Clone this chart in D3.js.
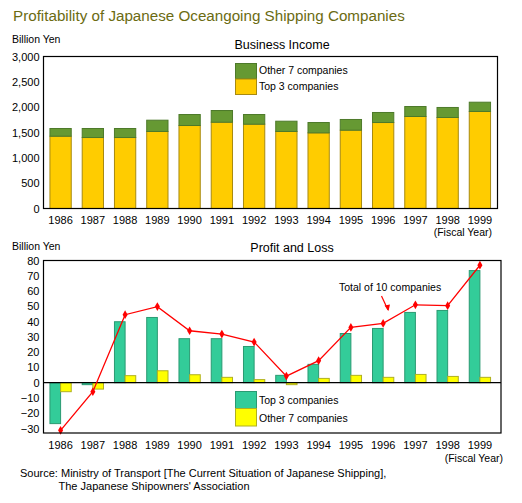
<!DOCTYPE html>
<html>
<head>
<meta charset="utf-8">
<script src="https://cdn.jsdelivr.net/npm/d3@7"></script>
<style>
  body { margin: 0; background: #fff; }
  text { font-family: "Liberation Sans", Arial, sans-serif; fill: #000; }
</style>
</head>
<body>
<div id="chart"></div>
<script>
// Data
var years = ["1986", "1987", "1988", "1989", "1990", "1991", "1992",
  "1993", "1994", "1995", "1996", "1997", "1998", "1999"];

// Business income, billion yen
var incomeTop3 = [1427, 1401, 1401, 1520, 1638, 1703, 1664, 1520, 1493, 1546, 1697, 1816, 1796, 1915];
var incomeOther7 = [152, 178, 178, 223, 217, 231, 191, 203, 204, 211, 198, 197, 198, 183];
var incomeTicks = [0, 500, 1000, 1500, 2000, 2500, 3000];

// Profit and loss, billion yen
var profitTop3 = [-26.8, -1.3, 39.9, 42.7, 28.8, 28.8, 23.7, 4.8, 12, 32.2, 35.5, 46, 47.3, 73.4];
var profitOther7 = [-5.9, -4.2, 4.6, 7.8, 5.2, 3.5, 2, -1.3, 2.8, 4.8, 3.5, 5.4, 4.1, 3.5];
var profitTotal = [-31.2, -5.9, 44.5, 49.8, 34, 31.8, 26.6, 4.3, 14.4, 36.2, 38.8, 51, 50.4, 76.9];
var profitTicks = [-30, -20, -10, 0, 10, 20, 30, 40, 50, 60, 70, 80];

var svgWidth = 522;
var svgHeight = 503;

var svg = d3.select("#chart")
  .append("svg")
  .attr("width", svgWidth)
  .attr("height", svgHeight);

// Title
svg.append("text")
  .attr("x", 13)
  .attr("y", 21)
  .style("font-size", "15.2px")
  .style("fill", "#6b6b12")
  .text("Profitability of Japanese Oceangoing Shipping Companies");

// shared x scale
var xScale = d3.scaleBand()
  .domain(years)
  .range([43.5, 497])
  .paddingInner(0.34)
  .paddingOuter(0.2);

// ==============================
// Chart 1: Business Income
// ==============================
var yIncome = d3.scaleLinear()
  .domain([0, 3000])
  .range([208.5, 56.5]);

svg.append("text")
  .attr("x", 12)
  .attr("y", 42.5)
  .style("font-size", "10.5px")
  .text("Billion Yen");

svg.append("text")
  .attr("x", 282)
  .attr("y", 49)
  .attr("text-anchor", "middle")
  .style("font-size", "12.5px")
  .text("Business Income");

var leftAxis1 = d3.axisLeft(yIncome)
  .tickValues(incomeTicks)
  .tickFormat(d3.format(","))
  .tickSize(0)
  .tickPadding(4);

svg.append("g")
  .attr("transform", "translate(43.5,0)")
  .call(leftAxis1)
  .call(g => g.select(".domain").remove())
  .selectAll("text")
  .style("font-size", "11px")
  .style("font-family", "Liberation Sans, Arial, sans-serif");

// stacked bars
var barsIncome = svg.append("g");
barsIncome.selectAll(".top3")
  .data(years)
  .enter()
  .append("rect")
  .attr("x", d => xScale(d))
  .attr("width", xScale.bandwidth())
  .attr("y", (d, i) => yIncome(incomeTop3[i]))
  .attr("height", (d, i) => yIncome(0) - yIncome(incomeTop3[i]))
  .attr("fill", "#ffcc00")
  .attr("stroke", "#a88a10")
  .attr("stroke-width", 1);

barsIncome.selectAll(".other7")
  .data(years)
  .enter()
  .append("rect")
  .attr("x", d => xScale(d))
  .attr("width", xScale.bandwidth())
  .attr("y", (d, i) => yIncome(incomeTop3[i] + incomeOther7[i]))
  .attr("height", (d, i) => yIncome(incomeTop3[i]) - yIncome(incomeTop3[i] + incomeOther7[i]))
  .attr("fill", "#669933")
  .attr("stroke", "#4d7a2a")
  .attr("stroke-width", 1);

// plot box
svg.append("rect")
  .attr("x", 43.5)
  .attr("y", 56.5)
  .attr("width", 454)
  .attr("height", 152)
  .attr("fill", "none")
  .attr("stroke", "#000")
  .attr("stroke-width", 1.2);

svg.append("g")
  .selectAll("text")
  .data(years)
  .enter()
  .append("text")
  .attr("x", d => xScale(d) + xScale.bandwidth() / 2)
  .attr("y", 224)
  .attr("text-anchor", "middle")
  .style("font-size", "11px")
  .text(d => d);

svg.append("text")
  .attr("x", 492)
  .attr("y", 235.5)
  .attr("text-anchor", "end")
  .style("font-size", "10.5px")
  .text("(Fiscal Year)");

// legend
svg.append("rect").attr("x", 235.5).attr("y", 63.5).attr("width", 21).attr("height", 15.5)
  .attr("fill", "#669933").attr("stroke", "#4d7a2a");
svg.append("rect").attr("x", 235.5).attr("y", 79).attr("width", 21).attr("height", 15.5)
  .attr("fill", "#ffcc00").attr("stroke", "#a88a10");
svg.append("text").attr("x", 259).attr("y", 74).style("font-size", "10.5px").text("Other 7 companies");
svg.append("text").attr("x", 259).attr("y", 90).style("font-size", "10.5px").text("Top 3  companies");

// ==============================
// Chart 2: Profit and Loss
// ==============================
var yProfit = d3.scaleLinear()
  .domain([-30, 80])
  .range([428.5, 260.5]);

svg.append("text")
  .attr("x", 12)
  .attr("y", 250)
  .style("font-size", "10.5px")
  .text("Billion Yen");

svg.append("text")
  .attr("x", 292)
  .attr("y", 252)
  .attr("text-anchor", "middle")
  .style("font-size", "12.5px")
  .text("Profit and Loss");

var leftAxis2 = d3.axisLeft(yProfit)
  .tickValues(profitTicks)
  .tickSize(0)
  .tickPadding(4);

svg.append("g")
  .attr("transform", "translate(43.5,0)")
  .call(leftAxis2)
  .call(g => g.select(".domain").remove())
  .selectAll("text")
  .style("font-size", "11px")
  .style("font-family", "Liberation Sans, Arial, sans-serif");

var half = xScale.bandwidth() / 2;
var barsProfit = svg.append("g");

barsProfit.selectAll(".p3")
  .data(years)
  .enter()
  .append("rect")
  .attr("x", d => xScale(d))
  .attr("width", half)
  .attr("y", (d, i) => yProfit(Math.max(0, profitTop3[i])))
  .attr("height", (d, i) => Math.abs(yProfit(profitTop3[i]) - yProfit(0)))
  .attr("fill", "#33cc99")
  .attr("stroke", "#2a9a72")
  .attr("stroke-width", 1);

barsProfit.selectAll(".p7")
  .data(years)
  .enter()
  .append("rect")
  .attr("x", d => xScale(d) + half)
  .attr("width", half)
  .attr("y", (d, i) => yProfit(Math.max(0, profitOther7[i])))
  .attr("height", (d, i) => Math.abs(yProfit(profitOther7[i]) - yProfit(0)))
  .attr("fill", "#ffff00")
  .attr("stroke", "#b0b020")
  .attr("stroke-width", 1);

// zero line
svg.append("line")
  .attr("x1", 43.5)
  .attr("x2", 501)
  .attr("y1", yProfit(0))
  .attr("y2", yProfit(0))
  .attr("stroke", "#000")
  .attr("stroke-width", 1.2);

// total line
var line = d3.line()
  .x((d, i) => xScale(years[i]) + half)
  .y(d => yProfit(d));

svg.append("path")
  .datum(profitTotal)
  .attr("d", line)
  .attr("fill", "none")
  .attr("stroke", "#ff0000")
  .attr("stroke-width", 1.3);

svg.append("g")
  .selectAll("path")
  .data(profitTotal)
  .enter()
  .append("path")
  .attr("transform", (d, i) => `translate(${xScale(years[i]) + half},${yProfit(d)})`)
  .attr("d", d3.symbol().type(d3.symbolDiamond).size(22))
  .attr("fill", "#ff0000");

// plot box
svg.append("rect")
  .attr("x", 43.5)
  .attr("y", 260.5)
  .attr("width", 457.5)
  .attr("height", 172.5)
  .attr("fill", "none")
  .attr("stroke", "#000")
  .attr("stroke-width", 1.2);

// annotation
svg.append("text")
  .attr("x", 339)
  .attr("y", 290.5)
  .style("font-size", "10.5px")
  .text("Total of 10 companies");

svg.append("line")
  .attr("x1", 381.5).attr("y1", 296)
  .attr("x2", 388).attr("y2", 310)
  .attr("stroke", "#ff0000")
  .attr("stroke-width", 1.2);
svg.append("path")
  .attr("d", "M388.5,311 L384.5,305.5 L390,304.5 Z")
  .attr("fill", "#ff0000");

svg.append("g")
  .selectAll("text")
  .data(years)
  .enter()
  .append("text")
  .attr("x", d => xScale(d) + half)
  .attr("y", 448.5)
  .attr("text-anchor", "middle")
  .style("font-size", "11px")
  .text(d => d);

svg.append("text")
  .attr("x", 503)
  .attr("y", 461.5)
  .attr("text-anchor", "end")
  .style("font-size", "10.5px")
  .text("(Fiscal Year)");

// legend
svg.append("rect").attr("x", 235.5).attr("y", 391.5).attr("width", 21).attr("height", 17)
  .attr("fill", "#33cc99").attr("stroke", "#2a9a72");
svg.append("rect").attr("x", 235.5).attr("y", 408.5).attr("width", 21).attr("height", 17.5)
  .attr("fill", "#ffff00").attr("stroke", "#b0b020");
svg.append("text").attr("x", 259).attr("y", 403.5).style("font-size", "10.5px").text("Top 3  companies");
svg.append("text").attr("x", 259).attr("y", 421.5).style("font-size", "10.5px").text("Other 7 companies");

// Source
svg.append("text")
  .attr("x", 20)
  .attr("y", 476.5)
  .style("font-size", "11px")
  .text("Source: Ministry of Transport [The Current Situation of Japanese Shipping],");
svg.append("text")
  .attr("x", 58.5)
  .attr("y", 489.5)
  .style("font-size", "11px")
  .text("The Japanese Shipowners' Association");
</script>
</body>
</html>
